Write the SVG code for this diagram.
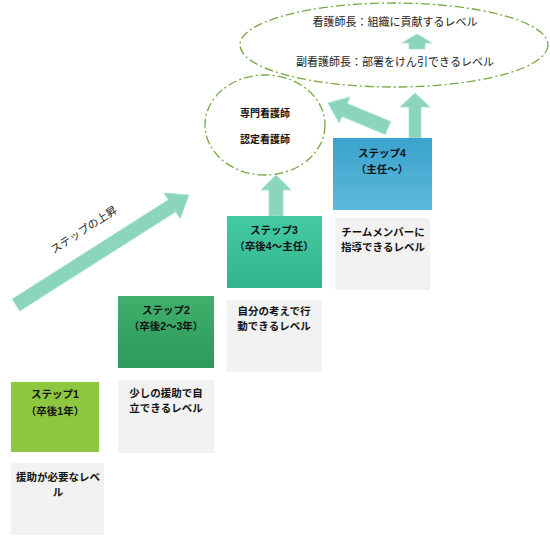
<svg xmlns="http://www.w3.org/2000/svg" width="550" height="536" viewBox="0 0 550 536">
<defs>
<linearGradient id="g2" x1="0" y1="0" x2="0" y2="1"><stop offset="0" stop-color="#40b06c"/><stop offset="1" stop-color="#2c9a5a"/></linearGradient>
<linearGradient id="g3" x1="0" y1="0" x2="0" y2="1"><stop offset="0" stop-color="#44caa2"/><stop offset="1" stop-color="#31b58d"/></linearGradient>
<linearGradient id="g4" x1="0" y1="0" x2="0" y2="1"><stop offset="0" stop-color="#3aa3cd"/><stop offset="1" stop-color="#5db9da"/></linearGradient>
</defs>
<style>
.lbl{font-family:"Liberation Sans","Noto Sans CJK JP",sans-serif;font-weight:bold;font-size:10.5px;fill:#111;text-anchor:middle}
.desc{font-family:"Noto Sans CJK JP",sans-serif;font-weight:bold;font-size:10.5px;fill:#111;text-anchor:middle}
.top{font-family:"Noto Sans CJK JP",sans-serif;font-size:11px;fill:#222;text-anchor:middle}
.ell{fill:none;stroke:#76a844;stroke-width:1.3;stroke-dasharray:9 3 2 3}
.arr{fill:#8ad5bc;stroke:#a9e2cf;stroke-width:0.8}
.tb{fill:#f2f2f2}
</style>
<g id="ellipse-top">
<ellipse class="ell" cx="394" cy="45" rx="154" ry="42"/>
<text class="top" x="395" y="26">看護師長：組織に貢献するレベル</text>
<text class="top" x="395" y="66">副看護師長：部署をけん引できるレベル</text>
</g>
<g id="ellipse-specialist">
<ellipse class="ell" cx="265" cy="125" rx="60" ry="50" fill="#fff"/>
<text class="desc" x="265" y="117" style="font-size:10px">専門看護師</text>
<text class="desc" x="265" y="143" style="font-size:10px">認定看護師</text>
</g>
<g id="connectors">
<path class="arr" d="M0,-7 L185,-7 L185,-15 L205,0 L185,15 L185,7 L0,7 Z" transform="translate(16,305) rotate(-32.45)"/>
<path class="arr" d="M269,216 L269,190 L261,190 L276,175 L291,190 L283,190 L283,216 Z"/>
<path class="arr" d="M409,138 L409,107 L400,107 L415,93 L430,107 L421,107 L421,138 Z"/>
<path class="arr" d="M0,-7 L47,-7 L47,-14 L65,0 L47,14 L47,7 L0,7 Z" transform="translate(388,128) rotate(-157.4)"/>
<path class="arr" d="M409,49 L409,43 L402,43 L417,34 L432,43 L425,43 L425,49 Z"/>
</g>
<text class="top" transform="translate(86,233) rotate(-33)">ステップの上昇</text>
<g id="step1">
<rect x="11" y="382" width="88" height="70" fill="#8dc63f"/>
<text class="lbl" x="55" y="398">ステップ1</text>
<text class="lbl" x="55" y="415">（卒後1年）</text>
</g>
<g id="step1-desc">
<rect class="tb" x="11" y="463" width="93" height="72"/>
<text class="desc" x="58" y="481">援助が必要なレベ</text>
<text class="desc" x="58" y="496">ル</text>
</g>
<g id="step2">
<rect x="118" y="296" width="96" height="72" fill="url(#g2)"/>
<text class="lbl" x="166" y="314">ステップ2</text>
<text class="lbl" x="166" y="330">（卒後2～3年）</text>
</g>
<g id="step2-desc">
<rect class="tb" x="118" y="380" width="96" height="73"/>
<text class="desc" x="166" y="397">少しの援助で自</text>
<text class="desc" x="166" y="412">立できるレベル</text>
</g>
<g id="step3">
<rect x="227" y="216" width="95" height="72" fill="url(#g3)"/>
<text class="lbl" x="274" y="234">ステップ3</text>
<text class="lbl" x="274" y="250">（卒後4～主任）</text>
</g>
<g id="step3-desc">
<rect class="tb" x="227" y="300" width="95" height="72"/>
<text class="desc" x="274" y="315">自分の考えで行</text>
<text class="desc" x="274" y="330">動できるレベル</text>
</g>
<g id="step4">
<rect x="333" y="138" width="99" height="72" fill="url(#g4)"/>
<text class="lbl" x="382" y="157">ステップ4</text>
<text class="lbl" x="382" y="173">（主任～）</text>
</g>
<g id="step4-desc">
<rect class="tb" x="335" y="218" width="95" height="72"/>
<text class="desc" x="383" y="236">チームメンバーに</text>
<text class="desc" x="383" y="251">指導できるレベル</text>
</g>
</svg>
